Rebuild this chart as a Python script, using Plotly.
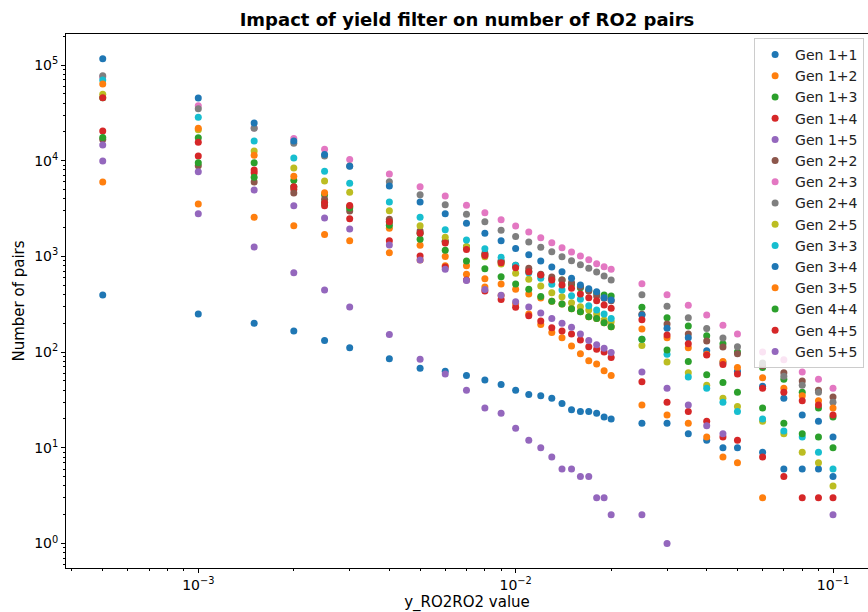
import plotly.graph_objects as go

x_vals = [0.0005, 0.001, 0.0015, 0.002, 0.0025, 0.003, 0.004, 0.005, 0.006, 0.007,
          0.008, 0.009, 0.010, 0.011, 0.012, 0.013, 0.014, 0.015, 0.016, 0.017,
          0.018, 0.019, 0.020, 0.025, 0.030, 0.035, 0.040, 0.045, 0.050, 0.060,
          0.070, 0.080, 0.090, 0.100]

gen_1_1 = [395, 250, 200, 166, 132, 111, 85, 68, 63, 57, 51, 46, 40, 36, 35, 33, 29, 25, 24, 24,
           23, 21, 20, 18, 18, 14, 12, 10, 10, 9, 6, 6, 6, 5]
gen_1_2 = [5980, 3530, 2560, 2090, 1690, 1460, 1093, 917, 800, 650, 480, 390, 320, 250, 194, 160, 141, 116, 96, 81,
           75, 64, 57, 28, 22, 18, 13, 8, 7, 3, None, None, None, None]
gen_1_3 = [45600, 17400, 9530, 6240, 4420, 3300, 2300, 1750, 1440, 1262, 1040, 880, 790, 700, 630, 580, 566, 510, 470, 440,
           415, 395, 385, 294, 229, 187, 148, 122, 100, 69, 52, 38, 26, 21]
gen_1_4 = [20400, 11200, 7500, 5020, 3390, 2480, 1460, 1010, 774, 566, 434, 354, 294, 240, 211, 180, 166, 155, 134, 114,
           107, 100, 88, 49, 30, 24, 19, 13, 12, 8, 5, 3, 3, 3]
gen_1_5 = [9930, 2790, 1253, 676, 445, 296, 153, 84, 59, 40, 26, 23, 16, 12, 10, 8, 6, 6, 5, 5,
           3, 3, 2, 2, 1, None, None, None, None, None, None, None, None, 2]
gen_2_2 = [16700, 8870, 5980, 4590, 3950, 2980, 2440, 1840, 1440, 1250, 1080, 900, 807, 751, 650, 610, 566, 530, 482, 434,
           385, 365, 345, 248, 197, 155, 131, 113, 96, 72, 61, 50, 40, 34]
gen_2_3 = [75000, 37600, 22000, 17100, 13200, 10300, 7260, 5350, 4280, 3420, 2860, 2420, 2080, 1800, 1570, 1390, 1230, 1110, 1010, 924,
           840, 781, 733, 519, 398, 308, 244, 191, 155, 100, 83, 62, 52, 42]
gen_2_4 = [77300, 34900, 21800, 15200, 11200, 8800, 6040, 4400, 3470, 2750, 2300, 1880, 1610, 1410, 1250, 1120, 990, 901, 820, 751,
           687, 624, 566, 398, 301, 229, 176, 140, 114, 77, 56, 45, 38, 30]
gen_2_5 = [49400, 21000, 12600, 8400, 6140, 4680, 3000, 2090, 1585, 1262, 993, 833, 666, 576, 491, 418, 379, 328, 298, 275,
           250, 216, 208, 117, 79, 61, 45, 33, 27, 19, 14, 9, 7, 4]
gen_3_3 = [69700, 28400, 16100, 10700, 7740, 5800, 3700, 2560, 1900, 1483, 1205, 979, 807, 676, 590, 511, 445, 388, 356, 305,
           275, 250, 225, 136, 95, 55, 42, 30, 24, 20, 15, 13, 9, 6]
gen_3_4 = [116000, 45200, 24800, 16100, 11600, 8750, 5450, 3700, 2790, 2220, 1750, 1460, 1210, 1040, 896, 775, 692, 590, 502, 459,
           428, 370, 350, 244, 177, 141, 103, 78, 63, 44, 33, 22, 19, 13]
gen_3_5 = [63300, 21800, 11400, 6870, 4630, 3300, 1970, 1306, 1000, 800, 585, 515, 453, 405, 367, 340, 318, 284, 264, 234,
           225, 203, 184, 174, 141, 111, 95, 80, 69, 54, 42, 35, 31, 26]
gen_4_4 = [17500, 9530, 6700, 5350, 3640, 3200, 2110, 1510, 1159, 895, 743, 614, 515, 453, 380, 340, 318, 284, 264, 234,
           225, 203, 184, 136, 105, 80, 58, 48, 38, 26, 18, 14, 13, 10]
gen_4_5 = [45600, 15600, 8000, 5350, 3640, 3400, 2300, 1750, 1380, 1180, 1020, 860, 760, 690, 640, 566, 502, 464, 405, 370,
           344, 311, 287, 218, 151, 122, 93, 74, 59, 42, 38, 31, 28, 22]
gen_5_5 = [14600, 7680, 4940, 3390, 2520, 1930, 1315, 917, 733, 560, 450, 393, 336, 296, 256, 225, 200, 182, 155, 132,
           119, 110, 99, 62, 42, 28, 17, 14, None, None, None, None, None, None]

series_names = ["Gen 1+1", "Gen 1+2", "Gen 1+3", "Gen 1+4", "Gen 1+5", "Gen 2+2", "Gen 2+3", "Gen 2+4",
                "Gen 2+5", "Gen 3+3", "Gen 3+4", "Gen 3+5", "Gen 4+4", "Gen 4+5", "Gen 5+5"]
series_values = [gen_1_1, gen_1_2, gen_1_3, gen_1_4, gen_1_5, gen_2_2, gen_2_3, gen_2_4,
                 gen_2_5, gen_3_3, gen_3_4, gen_3_5, gen_4_4, gen_4_5, gen_5_5]

palette = ["#1f77b4", "#ff7f0e", "#2ca02c", "#d62728", "#9467bd",
           "#8c564b", "#e377c2", "#7f7f7f", "#bcbd22", "#17becf"]

x_tick_vals = [1e-3, 1e-2, 1e-1]
x_tick_text = ["10<sup>\u22123</sup>", "10<sup>\u22122</sup>", "10<sup>\u22121</sup>"]
y_tick_vals = [1, 10, 100, 1000, 10000, 100000]
y_tick_text = ["10<sup>0</sup>", "10<sup>1</sup>", "10<sup>2</sup>", "10<sup>3</sup>", "10<sup>4</sup>", "10<sup>5</sup>"]

FONT = "DejaVu Sans"

fig = go.Figure()
for i, (name, vals) in enumerate(zip(series_names, series_values)):
    fig.add_trace(go.Scatter(
        x=x_vals, y=vals, mode="markers", name=name,
        marker=dict(color=palette[i % 10], size=7, line=dict(width=0)),
    ))

x_minor = [m * 10.0 ** k for k in range(-4, 0) for m in range(2, 10)]
y_minor = [m * 10.0 ** k for k in range(-1, 6) for m in range(2, 10)]

fig.update_layout(
    width=868, height=612,
    margin=dict(l=66, r=0, t=34, b=44),
    paper_bgcolor="white", plot_bgcolor="white",
    font=dict(family=FONT, size=14, color="black"),
    title=dict(text="<b>Impact of yield filter on number of RO2 pairs</b>",
               x=0.5, xref="paper", xanchor="center",
               y=1 - 20 / 612, yref="container", yanchor="middle",
               font=dict(family=FONT, size=18, color="black")),
    legend=dict(x=0.858, y=0.9925, xanchor="left", yanchor="top",
                bgcolor="rgba(255,255,255,0.8)", bordercolor="#cccccc", borderwidth=1,
                font=dict(family=FONT, size=14, color="#222222"),
                itemsizing="trace"),
    showlegend=True,
)

fig.update_xaxes(
    type="log", range=[-3.4168, -0.8897],
    tickmode="array", tickvals=x_tick_vals, ticktext=x_tick_text,
    ticks="outside", ticklen=4, tickwidth=1, tickcolor="black",
    showline=True, linecolor="black", linewidth=1, mirror=True,
    showgrid=False, zeroline=False,
    tickfont=dict(family=FONT, size=14),
    minor=dict(tickmode="array", tickvals=x_minor, ticks="outside", ticklen=2, tickcolor="black", showgrid=False),
    title=dict(text="y_RO2RO2 value", font=dict(family=FONT, size=15), standoff=3),
)
fig.update_yaxes(
    type="log", range=[-0.256, 5.324],
    tickmode="array", tickvals=y_tick_vals, ticktext=y_tick_text,
    ticks="outside", ticklen=4, tickwidth=1, tickcolor="black",
    showline=True, linecolor="black", linewidth=1, mirror=True,
    showgrid=False, zeroline=False,
    tickfont=dict(family=FONT, size=14),
    minor=dict(tickmode="array", tickvals=y_minor, ticks="outside", ticklen=2, tickcolor="black", showgrid=False),
    title=dict(text="Number of pairs", font=dict(family=FONT, size=15), standoff=5),
)

fig.write_html("out.html")
